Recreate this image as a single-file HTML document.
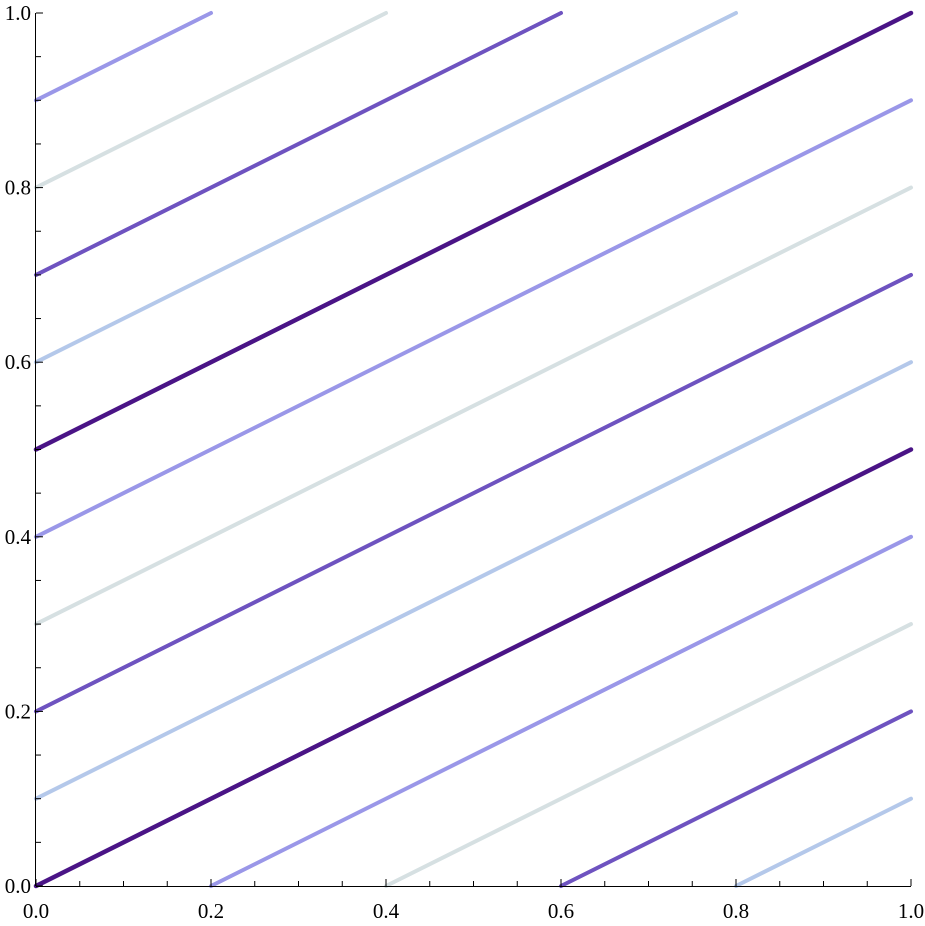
<!DOCTYPE html>
<html><head><meta charset="utf-8"><style>
body{margin:0;background:#fff}
svg text{font-family:"Liberation Serif","Times New Roman",serif;font-size:21px;fill:#000}
</style></head><body>
<svg id="chart" width="925" height="921" xmlns="http://www.w3.org/2000/svg">
<g id="lines"></g>
<g id="axes"></g>
</svg>
<script>
const intercepts=[0.9,0.8,0.7,0.6,0.5,0.4,0.3,0.2,0.1,0.0,-0.1,-0.2,-0.3,-0.4];
const slopes=[0.5,0.5,0.5,0.5,0.5,0.5,0.5,0.5,0.5,0.5,0.5,0.5,0.5,0.5];
const palette=["#9a97e8","#d6e0e2","#6e53c0","#b4c8ea","#4a1486"];
const xTicks=[0,0.2,0.4,0.6,0.8,1.0];
const yTicks=[0,0.2,0.4,0.6,0.8,1.0];
const X0=36,X1=911,Y0=886,Y1=13;
const sx=v=>X0+(X1-X0)*v, sy=v=>Y0-(Y0-Y1)*v;
const NS="http://www.w3.org/2000/svg";
const lg=document.getElementById('lines'), ax=document.getElementById('axes');
intercepts.forEach((c,i)=>{
  const m=slopes[i];
  let xa=0,xb=1;
  if(c<0) xa=-c/m;
  if(m*1+c>1) xb=(1-c)/m;
  const l=document.createElementNS(NS,'line');
  
  
  l.setAttribute('x1',sx(xa));l.setAttribute('y1',sy(m*xa+c));
  l.setAttribute('x2',sx(xb));l.setAttribute('y2',sy(m*xb+c));
  const col=palette[i%5];
  l.setAttribute('stroke',col);
  l.setAttribute('stroke-width',col==="#4a1486"?4.5:4);
  l.setAttribute('stroke-linecap','round');
  lg.appendChild(l);
});
function ln(x1,y1,x2,y2,name){const l=document.createElementNS(NS,'line');
  
  
  l.setAttribute('x1',x1);l.setAttribute('y1',y1);l.setAttribute('x2',x2);l.setAttribute('y2',y2);
  l.setAttribute('stroke','#000');l.setAttribute('stroke-width',1);ax.appendChild(l);}
ln(X0,Y0+0.5,X1,Y0+0.5,'x-axis');
ln(X0-0.5,Y0,X0-0.5,Y1,'y-axis');
for(let k=0;k<=20;k++){const v=k/20,len=(k%4===0)?7:5;
  ln(sx(v),Y0,sx(v),Y0-len,'x-tick');
  ln(X0,sy(v),X0+len,sy(v),'y-tick');}
xTicks.forEach(v=>{const t=document.createElementNS(NS,'text');
  
  
  t.setAttribute('x',sx(v));t.setAttribute('y',918);t.setAttribute('text-anchor','middle');
  t.textContent=v.toFixed(1);ax.appendChild(t);});
yTicks.forEach(v=>{const t=document.createElementNS(NS,'text');
  
  
  t.setAttribute('x',31);t.setAttribute('y',sy(v)+7);t.setAttribute('text-anchor','end');
  t.textContent=v.toFixed(1);ax.appendChild(t);});
</script>
</body></html>
